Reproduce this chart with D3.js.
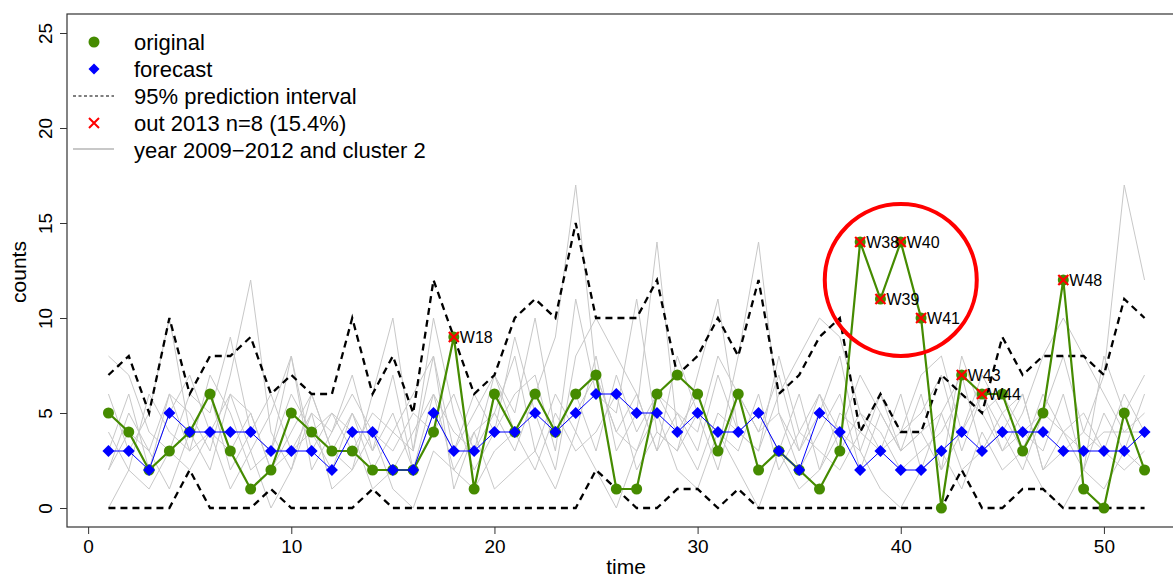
<!DOCTYPE html>
<html>
<head>
<meta charset="utf-8">
<script src="https://cdn.jsdelivr.net/npm/d3@7"></script>
<style>
  body { margin: 0; background: #fff; }
  text { font-family: "Liberation Sans", Arial, sans-serif; fill: #000; }
</style>
</head>
<body>
<svg id="chart" width="1173" height="578"></svg>
<script>
// week index of the 2013 season
const weeks = d3.range(1, 53)
const original = [5, 4, 2, 3, 4, 6, 3, 1, 2, 5, 4, 3, 3, 2, 2, 2, 4, 9, 1, 6, 4, 6, 4, 6, 7, 1, 1, 6, 7, 6, 3, 6, 2, 3, 2, 1, 3, 14, 11, 14, 10, 0, 7, 6, 6, 3, 5, 12, 1, 0, 5, 2]
const forecast = [3, 3, 2, 5, 4, 4, 4, 4, 3, 3, 3, 2, 4, 4, 2, 2, 5, 3, 3, 4, 4, 5, 4, 5, 6, 6, 5, 5, 4, 5, 4, 4, 5, 3, 2, 5, 4, 2, 3, 2, 2, 3, 4, 3, 4, 4, 4, 3, 3, 3, 3, 4]
const upper = [7, 8, 5, 10, 6, 8, 8, 9, 6, 7, 6, 6, 10, 6, 8, 5, 12, 9, 6, 7, 10, 11, 10, 15, 10, 10, 10, 12, 7, 8, 10, 8, 12, 6, 7, 9, 10, 4, 6, 4, 4, 7, 6, 5, 9, 7, 8, 8, 8, 7, 11, 10]
const lower = [0, 0, 0, 0, 2, 0, 0, 0, 1, 0, 0, 0, 0, 1, 0, 0, 0, 0, 0, 0, 0, 0, 0, 0, 2, 1, 0, 0, 1, 1, 0, 1, 0, 0, 0, 0, 0, 0, 0, 0, 0, 0, 2, 0, 0, 1, 1, 0, 0, 0, 0, 0]

// earlier years (2009-2012) and cluster 2, read roughly off the grey tangle
const grey1 = [2, 4, 3, 6, 5, 3, 7, 12, 4, 2, 6, 3, 5, 2, 4, 6, 8, 3, 5, 7, 4, 6, 9, 17, 7, 4, 6, 3, 8, 5, 2, 6, 4, 7, 3, 5, 8, 3, 6, 4, 5, 7, 3, 6, 4, 2, 5, 8, 4, 7, 17, 12]
const grey2 = [6, 3, 5, 10, 4, 2, 6, 3, 5, 8, 2, 4, 7, 3, 5, 2, 6, 4, 3, 5, 8, 3, 6, 4, 8, 3, 5, 14, 4, 6, 3, 8, 14, 5, 3, 6, 4, 7, 5, 3, 6, 2, 4, 7, 5, 3, 6, 4, 2, 5, 3, 6]
const grey3 = [3, 6, 2, 5, 7, 4, 3, 5, 2, 4, 6, 3, 2, 6, 10, 3, 10, 5, 2, 4, 6, 7, 3, 11, 6, 5, 11, 4, 3, 7, 11, 4, 5, 3, 6, 2, 5, 4, 3, 6, 2, 5, 7, 3, 5, 6, 2, 4, 5, 3, 6, 4]
const grey4 = [8, 7, 4, 3, 6, 5, 9, 4, 6, 3, 5, 4, 6, 4, 3, 5, 4, 6, 3, 7, 5, 10, 4, 6, 3, 7, 4, 6, 5, 3, 7, 4, 3, 6, 8, 10, 9, 5, 3, 4, 7, 8, 4, 6, 3, 5, 8, 10, 8, 6, 4, 5]
const grey5 = [4, 2, 6, 4, 3, 7, 5, 2, 3, 6, 4, 2, 5, 3, 7, 2, 5, 3, 6, 4, 9, 5, 2, 8, 10, 8, 6, 3, 5, 4, 8, 6, 4, 5, 2, 4, 6, 2, 5, 3, 4, 2, 8, 5, 6, 4, 3, 6, 2, 8, 5, 7]
const grey6 = [0, 2, 1, 3, 2, 4, 1, 3, 0, 2, 5, 1, 2, 4, 1, 0, 3, 2, 4, 1, 2, 3, 1, 4, 2, 0, 3, 5, 2, 1, 4, 2, 0, 3, 1, 2, 4, 3, 1, 0, 2, 3, 1, 4, 2, 3, 1, 0, 2, 1, 3, 2]
const grey7 = [2, 5, 3, 1, 4, 6, 2, 4, 3, 8, 3, 5, 4, 1, 2, 4, 6, 2, 1, 3, 4, 2, 5, 3, 4, 6, 2, 4, 3, 5, 4, 3, 6, 2, 4, 3, 2, 4, 6, 3, 4, 5, 2, 3, 4, 6, 2, 3, 4, 3, 2, 3]
const grey8 = [5, 4, 2, 6, 3, 4, 6, 5, 2, 3, 4, 5, 3, 5, 4, 3, 8, 1, 4, 5, 3, 6, 4, 5, 7, 4, 3, 6, 4, 2, 5, 4, 3, 8, 4, 6, 3, 5, 4, 2, 3, 4, 6, 5, 3, 4, 5, 4, 3, 4, 4, 4]
const greyYears = [grey1, grey2, grey3, grey4, grey5, grey6, grey7, grey8]

const outWeeks = [18, 38, 39, 40, 41, 43, 44, 48]
const xTicks = [0, 10, 20, 30, 40, 50]
const yTicks = [0, 5, 10, 15, 20, 25]
const legendLabels = ["original", "forecast", "95% prediction interval", "out 2013 n=8 (15.4%)", "year 2009\u22122012 and cluster 2"]

const green = "#458B00"
const blue = "#0000FF"

const svg = d3.select("#chart")

// R style 4% padding around 1..52 and 0..25
const x = d3.scaleLinear().domain([-1.04, 54.04]).range([67, 1186])
const y = d3.scaleLinear().domain([-1, 26]).range([527, 14])

const line = d3.line()
  .x((d, i) => x(weeks[i]))
  .y(d => y(d))

// grey history lines
svg.append("g")
  .attr("fill", "none")
  .attr("stroke", "#c8c8c8")
  .attr("stroke-width", 1)
  .selectAll("path")
  .data(greyYears)
  .enter()
  .append("path")
  .attr("d", line)

// prediction interval
svg.append("g")
  .attr("fill", "none")
  .attr("stroke", "#000")
  .attr("stroke-width", 2.3)
  .attr("stroke-dasharray", "7,5")
  .selectAll("path")
  .data([upper, lower])
  .enter()
  .append("path")
  .attr("d", line)

// original series
svg.append("path")
  .attr("fill", "none")
  .attr("stroke", green)
  .attr("stroke-width", 2.2)
  .attr("d", line(original))

svg.append("g")
  .selectAll("circle")
  .data(original)
  .enter()
  .append("circle")
  .attr("cx", (d, i) => x(weeks[i]))
  .attr("cy", d => y(d))
  .attr("r", 5.5)
  .attr("fill", green)

// forecast
svg.append("path")
  .attr("fill", "none")
  .attr("stroke", blue)
  .attr("stroke-width", 1)
  .attr("d", line(forecast))

const diamond = s => `M0,${-s}L${s},0L0,${s}L${-s},0Z`

svg.append("g")
  .selectAll("path")
  .data(forecast)
  .enter()
  .append("path")
  .attr("transform", (d, i) => `translate(${x(weeks[i])},${y(d)})`)
  .attr("d", diamond(6))
  .attr("fill", blue)

// outliers
const cross = s => `M${-s},${-s}L${s},${s}M${-s},${s}L${s},${-s}`
const outs = outWeeks.map(w => ({ week: w, value: original[w - 1] }))

svg.append("g")
  .selectAll("path")
  .data(outs)
  .enter()
  .append("path")
  .attr("transform", d => `translate(${x(d.week)},${y(d.value)})`)
  .attr("d", cross(5))
  .attr("stroke", "red")
  .attr("stroke-width", 2.2)
  .attr("fill", "none")

svg.append("g")
  .selectAll("text")
  .data(outs)
  .enter()
  .append("text")
  .attr("x", d => x(d.week) + 6)
  .attr("y", d => y(d.value))
  .attr("dy", "0.36em")
  .style("font-size", "16px")
  .text(d => `W${d.week}`)

// red ring round the W38-W41 burst
svg.append("circle")
  .attr("cx", x(40))
  .attr("cy", y(12))
  .attr("r", 76)
  .attr("fill", "none")
  .attr("stroke", "red")
  .attr("stroke-width", 4)

// axes
const xAxis = svg.append("g")
  .attr("transform", `translate(0,527)`)
  .call(d3.axisBottom(x).tickValues(xTicks).tickSize(7).tickPadding(6))
xAxis.select(".domain").remove()
xAxis.selectAll("text").style("font-size", "19px").attr("fill", "#000")
xAxis.selectAll("line").attr("stroke", "#333")

const yAxis = svg.append("g")
  .attr("transform", `translate(67,0)`)
  .call(d3.axisLeft(y).tickValues(yTicks).tickSize(7))
yAxis.select(".domain").remove()
yAxis.selectAll("line").attr("stroke", "#333")
yAxis.selectAll("text")
  .attr("x", 0)
  .attr("dy", null)
  .attr("text-anchor", "middle")
  .attr("transform", "translate(-15,0) rotate(-90)")
  .style("font-size", "19px")
  .attr("fill", "#000")

// plot box
svg.append("rect")
  .attr("x", 67)
  .attr("y", 14)
  .attr("width", 1186 - 67)
  .attr("height", 527 - 14)
  .attr("fill", "none")
  .attr("stroke", "#333")
  .attr("stroke-width", 1.2)

svg.append("text")
  .attr("x", 626)
  .attr("y", 574)
  .attr("text-anchor", "middle")
  .style("font-size", "21px")
  .text("time")

svg.append("text")
  .attr("transform", "translate(26,272) rotate(-90)")
  .attr("text-anchor", "middle")
  .style("font-size", "21px")
  .text("counts")

// legend
const legend = svg.append("g")
const rowY = i => 42 + i * 27
legend.append("circle")
  .attr("cx", 94).attr("cy", rowY(0)).attr("r", 5.5).attr("fill", green)
legend.append("path")
  .attr("transform", `translate(94,${rowY(1)})`)
  .attr("d", diamond(5.5)).attr("fill", blue)
legend.append("line")
  .attr("x1", 73).attr("x2", 114).attr("y1", rowY(2)).attr("y2", rowY(2))
  .attr("stroke", "#000").attr("stroke-width", 1.2).attr("stroke-dasharray", "3,2.5")
legend.append("path")
  .attr("transform", `translate(94,${rowY(3)})`)
  .attr("d", cross(5)).attr("stroke", "red").attr("stroke-width", 2)
legend.append("line")
  .attr("x1", 73).attr("x2", 114).attr("y1", rowY(4) - 1).attr("y2", rowY(4) - 1)
  .attr("stroke", "#c8c8c8").attr("stroke-width", 2)

legend.selectAll("text")
  .data(legendLabels)
  .enter()
  .append("text")
  .attr("x", 134)
  .attr("y", (d, i) => rowY(i))
  .attr("dy", "0.36em")
  .style("font-size", "22px")
  .text(d => d)
</script>
</body>
</html>
